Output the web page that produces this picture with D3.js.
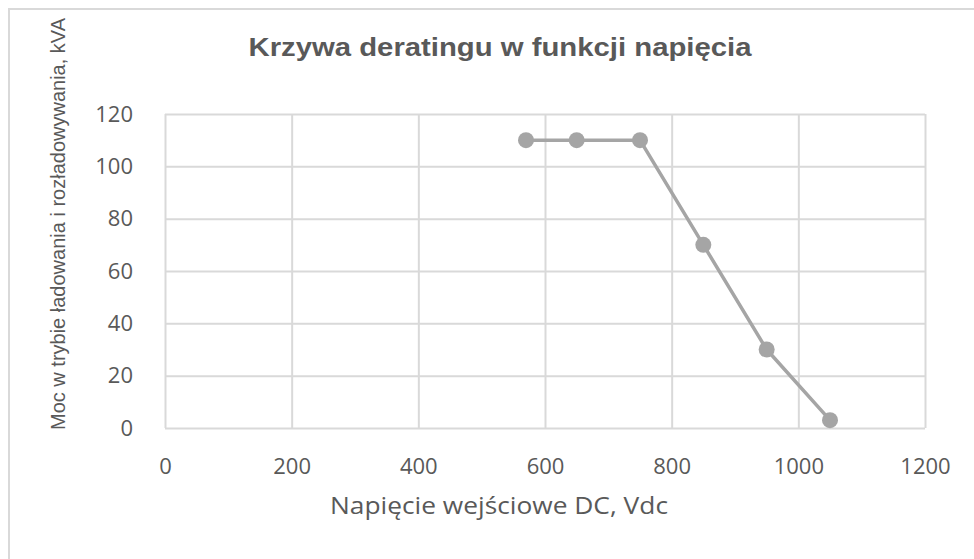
<!DOCTYPE html>
<html><head><meta charset="utf-8">
<script src="https://cdn.jsdelivr.net/npm/d3@7"></script>
<style>body{margin:0;background:#fff;}svg{display:block;}</style>
</head><body>
<svg id="chart" width="974" height="559"></svg>
<script>
const voltages = [570, 650, 750, 850, 950, 1050];
const power = [110, 110, 110, 70, 30, 3];
const xTicks = [0, 200, 400, 600, 800, 1000, 1200];
const yTicks = [0, 20, 40, 60, 80, 100, 120];
const title = "Krzywa deratingu w funkcji napięcia";
const xTitle = "Napięcie wejściowe DC, Vdc";
const yTitle = "Moc w trybie ładowania i rozładowywania, kVA";

const svg = d3.select("#chart");
const m = {left:165, top:114, right:925, bottom:428};
const x = d3.scaleLinear().domain([0,1200]).range([m.left, m.right]);
const y = d3.scaleLinear().domain([0,120]).range([m.bottom, m.top]);
const grid = "#D9D9D9", txt = "#595959", font = "'Open Sans', 'Liberation Sans', Arial, sans-serif";

svg.append("rect").attr("x",9).attr("y",9).attr("width",1100).attr("height",700)
  .attr("fill","#fff").attr("stroke",grid).attr("stroke-width",2);

// gridlines via axes
svg.append("g").attr("transform",`translate(0,${m.bottom})`)
  .call(d3.axisBottom(x).tickValues(xTicks).tickSize(-(m.bottom-m.top)).tickFormat(""))
  .call(g=>{g.select(".domain").remove(); g.selectAll("line").attr("stroke",grid).attr("stroke-width",2);});
svg.append("g").attr("transform",`translate(${m.left},0)`)
  .call(d3.axisLeft(y).tickValues(yTicks).tickSize(-(m.right-m.left)).tickFormat(""))
  .call(g=>{g.select(".domain").remove(); g.selectAll("line").attr("stroke",grid).attr("stroke-width",2);});

// tick labels
svg.append("g").attr("transform",`translate(0,${m.bottom})`)
  .call(d3.axisBottom(x).tickValues(xTicks).tickSize(0).tickPadding(0).tickFormat(d3.format("d")))
  .call(g=>{g.select(".domain").remove(); g.selectAll("text").attr("y",46).attr("dy",null).attr("fill",txt).style("font-family",font).style("font-size","22px");});
svg.append("g").attr("transform",`translate(${m.left},0)`)
  .call(d3.axisLeft(y).tickValues(yTicks).tickSize(0).tickPadding(32).tickFormat(d3.format("d")))
  .call(g=>{g.select(".domain").remove(); g.selectAll("text").attr("fill",txt).style("font-family",font).style("font-size","22px");});

// line + markers
const pts = voltages.map((v,i)=>({v, p: power[i]}));
svg.append("path").datum(pts)
  .attr("fill","none").attr("stroke","#A5A5A5").attr("stroke-width",3.5).attr("stroke-linejoin","round")
  .attr("d", d3.line().x(d=>x(d.v)).y(d=>y(d.p)));
svg.selectAll("circle.pt").data(pts).enter().append("circle").attr("class","pt")
  .attr("cx",d=>x(d.v)).attr("cy",d=>y(d.p)).attr("r",8).attr("fill","#A5A5A5");

// titles
svg.append("text").attr("x",500).attr("y",56).attr("text-anchor","middle")
  .attr("textLength",503).attr("lengthAdjust","spacingAndGlyphs")
  .attr("fill",txt).style("font-family","'Liberation Sans', Arial, sans-serif").style("font-weight","bold").style("font-size","26px")
  .text(title);
svg.append("text").attr("x",499).attr("y",514).attr("text-anchor","middle")
  .attr("textLength",338).attr("lengthAdjust","spacingAndGlyphs")
  .attr("fill",txt).style("font-family",font).style("font-size","23px").text(xTitle);
svg.append("text").attr("transform",`translate(65,224) rotate(-90)`).attr("text-anchor","middle")
  .attr("fill",txt).style("font-family","'Liberation Sans', Arial, sans-serif").style("font-size","20px").text(yTitle);
</script>
</body></html>
